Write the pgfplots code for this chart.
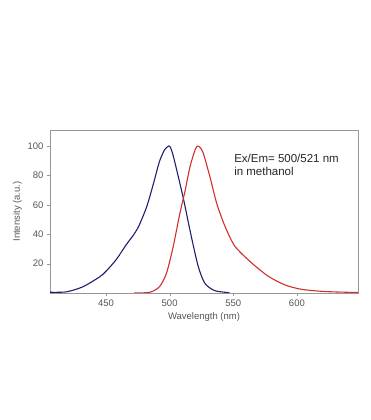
\documentclass[border=0pt]{standalone}
\usepackage{pgfplots}
\pgfplotsset{compat=1.18}
\usepackage{fontspec}
\setmainfont{Liberation Sans}
\definecolor{exblue}{RGB}{32,30,112}
\definecolor{emred}{RGB}{212,45,45}
\definecolor{framegray}{RGB}{150,150,150}
\definecolor{labgray}{RGB}{85,85,85}
\begin{document}
\begin{tikzpicture}[x=1pt,y=1pt]
\path[use as bounding box] (0,0) rectangle (370,420);
\begin{axis}[
  at={(50pt,127pt)}, anchor=south west,
  scale only axis, width=308pt, height=163pt,
  xmin=406, xmax=648, ymin=0, ymax=111,
  xtick={450,500,550,600}, ytick={20,40,60,80,100},
  tick align=outside, xtick pos=bottom, ytick pos=left,
  major tick length=3pt,
  axis line style={framegray},
  tick style={framegray},
  ticklabel style={font=\fontsize{9.5}{11}\selectfont, text=labgray},
  /pgf/number format/assume math mode=true,
  xlabel={Wavelength (nm)}, ylabel={Intensity (a.u.)},
  label style={font=\fontsize{9.5}{11}\selectfont, text=labgray},
  xlabel style={yshift=1pt},
  ylabel style={yshift=-1pt},
]
\addplot[exblue, line width=1.1pt, smooth, tension=0.45] coordinates {
(406,0.5) (419,0.8) (432,4.3) (445,11) (450,14.8) (458,22.7) (466,33)
(472,40) (476,46) (482,58.8) (487,73.6) (492,89.5) (496,97.5) (498.5,99.6) (500,100)
(502,96) (505.5,84) (511,63.5) (517,38.6) (522.5,18) (527.7,6.6) (535.5,1.6) (547,0.2)
};
\addplot[emred, line width=1.1pt, smooth, tension=0.45] coordinates {
(472,0) (484.5,0.5) (492,4.3) (497.5,13.4) (502.8,31.6) (508,54) (512,69)
(516,86) (520,97.5) (522,100) (524,99) (526.5,95) (531.7,79) (537,61) (543.5,45.4)
(551.3,31.8) (564.4,20.5) (577.5,11.4) (590.6,5.5) (603.7,2.5) (622,1) (648,0.3)
};
\node[anchor=north west, align=left, font=\fontsize{11.5}{13.5}\selectfont, text=black!85]
  at (axis cs:548,97) {Ex/Em= 500/521 nm\\in methanol};
\end{axis}
\end{tikzpicture}
\end{document}
